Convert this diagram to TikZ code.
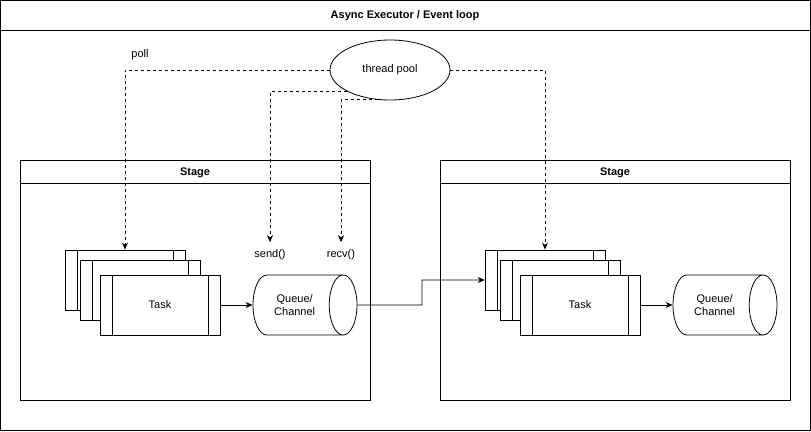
\documentclass[tikz,border=0pt]{standalone}
\usepackage{fontspec}
\setmainfont{Liberation Sans}
\usetikzlibrary{shapes.geometric,arrows.meta}

\begin{document}
\begin{tikzpicture}[x=1pt,y=-1pt,line width=0.8pt,font=\fontsize{11}{13}\selectfont,
	titletext/.style={font=\fontsize{11}{13}\selectfont\bfseries},
	taskbox/.style={draw,fill=white,minimum width=120pt,minimum height=60pt,
		path picture={
			\draw ([xshift=12pt]path picture bounding box.north west) -- ([xshift=12pt]path picture bounding box.south west);
			\draw ([xshift=-12pt]path picture bounding box.north east) -- ([xshift=-12pt]path picture bounding box.south east);}},
	queuebox/.style={draw,cylinder,aspect=1,minimum width=60pt,minimum height=104pt,align=center,anchor=shape center},
	poolflow/.style={dash pattern=on 3pt off 3pt,-{Stealth[length=7pt,width=6pt]}},
	dataflow/.style={-{Stealth[length=7pt,width=6pt]}}]
	\useasboundingbox (0,0) rectangle (811,431);
	% executor frame
	\draw [black] (0.5,0.5) rectangle (810,430);
	\draw [black] (0.5,30) -- (810,30);
	\node[titletext] (executor) at (405,16) {Async Executor / Event loop};
	% stages
	\draw [black] (20,160) rectangle (370,400);
	\draw [black] (20,183) -- (370,183);
	\node[titletext] (stageA) at (195,173) {Stage};
	\draw [black] (440,160) rectangle (790,400);
	\draw [black] (440,183) -- (790,183);
	\node[titletext] (stageB) at (615,173) {Stage};
	% thread pool
	\node[draw,ellipse,minimum width=120pt,minimum height=60pt] (pool) at (390,70) {thread pool};
	\node (poll) at (140,55) {poll};
	\node (send) at (270,255) {send()};
	\node (recv) at (341,255) {recv()};
	% tasks and queues
	\node[taskbox] (taskA1) at (125,280) {};
	\node[taskbox] (taskA2) at (140,290) {};
	\node[taskbox] (taskA3) at (160,305) {Task};
	\node[queuebox] (queueA) at (305,305) {Queue/\\Channel};
	\node[taskbox] (taskB1) at (545,280) {};
	\node[taskbox] (taskB2) at (560,290) {};
	\node[taskbox] (taskB3) at (580,305) {Task};
	\node[queuebox] (queueB) at (725,305) {Queue/\\Channel};
	% connectors
	\draw[poolflow] (pool.west) -| (taskA1.north);
	\draw[poolflow] (pool.206) -| ([yshift=4pt]send.north);
	\draw[poolflow] (pool.248) -| ([yshift=4pt]recv.north);
	\draw[poolflow] (pool.east) -| (taskB1.north);
	\draw[dataflow] (taskA3.east) -- (queueA.west);
	\coordinate (hop) at (422,305);
	\draw[dataflow] (queueA.east) -- (hop) |- (taskB1.west);
	\draw[dataflow] (taskB3.east) -- (queueB.west);
\end{tikzpicture}
\end{document}
